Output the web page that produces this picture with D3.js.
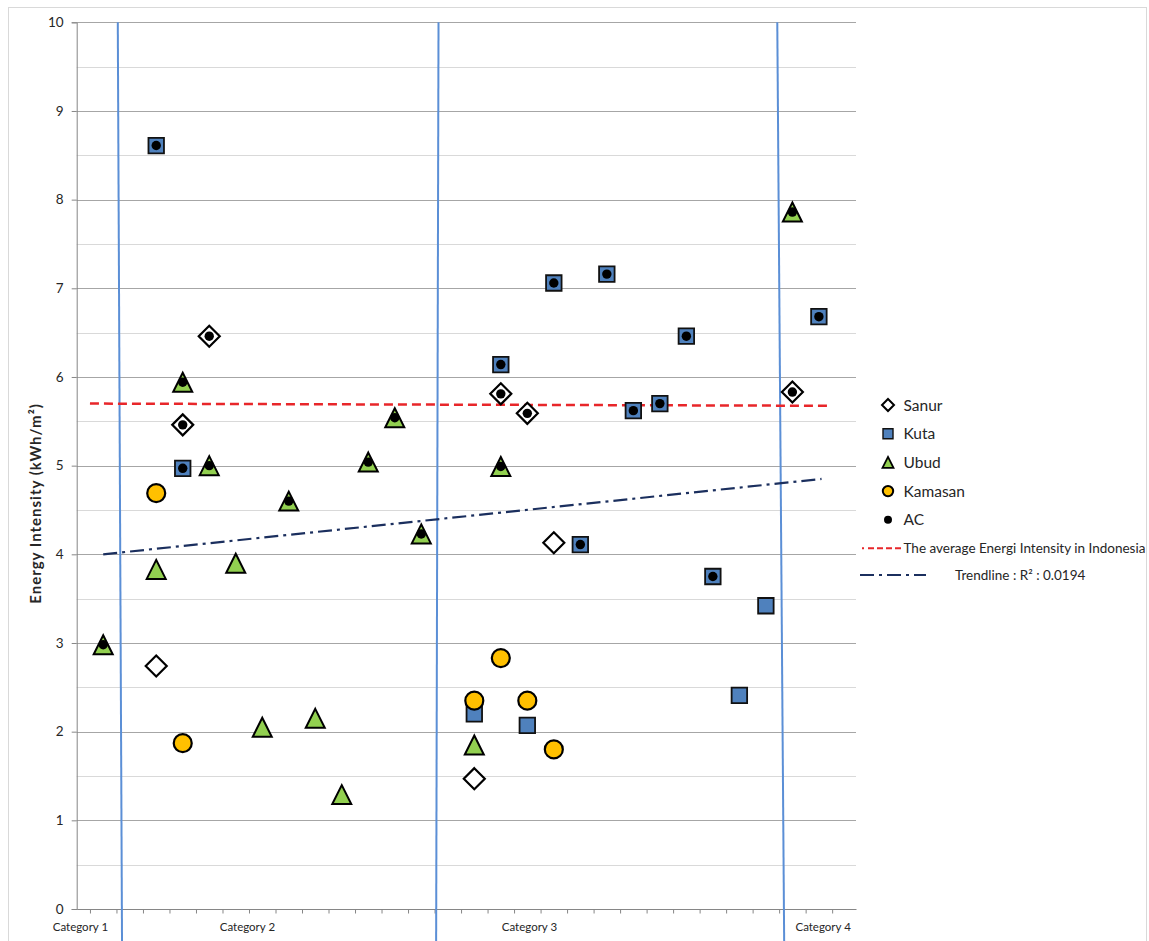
<!DOCTYPE html>
<html>
<head>
<meta charset="utf-8">
<script src="https://cdn.jsdelivr.net/npm/d3@7"></script>
<style>
  html, body { margin: 0; padding: 0; background: #fff; }
  svg { display: block; }
  text { font-family: Lato, "Open Sans", "DejaVu Sans", sans-serif; fill: #262626; }
</style>
</head>
<body>
<svg id="chart" width="1149" height="941"></svg>
<script>
// ---------------- data ----------------
const categoryNames = ["Category 1", "Category 2", "Category 3", "Category 4"];
const categoryPos = [0.14, 6.44, 17.08, 28.16];
const yTicks = [0, 1, 2, 3, 4, 5, 6, 7, 8, 9, 10];

const sanurX = [3, 4, 5, 15, 16, 17, 18, 27];
const sanurY = [2.74, 5.46, 6.46, 1.47, 5.81, 5.59, 4.13, 5.83];

const kutaX = [3, 4, 15, 16, 17, 18, 19, 20, 21, 22, 23, 24, 25, 26, 28];
const kutaY = [8.61, 4.97, 2.20, 6.14, 2.07, 7.06, 4.11, 7.16, 5.62, 5.70, 6.46, 3.75, 2.41, 3.42, 6.68];

const ubudX = [1, 3, 4, 5, 6, 7, 8, 9, 10, 11, 12, 13, 15, 16, 27];
const ubudY = [2.98, 3.83, 5.94, 5.00, 3.90, 2.05, 4.60, 2.15, 1.29, 5.04, 5.54, 4.23, 1.85, 4.99, 7.86];

const kamasanX = [3, 4, 15, 16, 17, 18];
const kamasanY = [4.69, 1.87, 2.35, 2.83, 2.35, 1.80];

const acX = [1, 3, 4, 4, 4, 5, 5, 8, 11, 12, 13, 16, 16, 16, 17, 18, 19, 20, 21, 22, 23, 24, 27, 27, 28];
const acY = [2.98, 8.61, 5.94, 5.46, 4.97, 6.46, 5.00, 4.60, 5.04, 5.54, 4.23, 6.14, 5.81, 4.99, 5.59, 7.06, 4.11, 7.16, 5.62, 5.70, 6.46, 3.75, 7.86, 5.83, 6.68];

// average energy intensity line and trendline (endpoints in data units)
const avgLineX = [0.5, 28.42];
const avgLineY = [5.70, 5.675];
const trendX = [1, 28.1];
const trendY = [4.00, 4.85];
const trendLabel = "Trendline : R\u00b2 : 0.0194";
const avgLabel = "The average Energi Intensity in Indonesia";

// category separator lines (top/bottom points in data units)
const sepTopX = [1.55, 13.65, 26.43];
const sepBotX = [1.71, 13.56, 26.69];
const sepTopY = 10;
const sepBotY = -0.37;

const seriesNames = ["Sanur", "Kuta", "Ubud", "Kamasan", "AC"];

// ---------------- layout ----------------
const svg = d3.select("#chart");
const plotLeft = 76.7, plotRight = 856, plotTop = 22.3, plotBottom = 909;

const x = d3.scaleLinear().domain([0, 29.4]).range([plotLeft, plotRight]);
const y = d3.scaleLinear().domain([0, 10]).range([plotBottom, plotTop]);

// outer chart frame
svg.append("rect").attr("x", 8.5).attr("y", 7.5).attr("width", 1138).attr("height", 960)
  .attr("fill", "none").attr("stroke", "#D9D9D9").attr("stroke-width", 1);

// minor gridlines
const minor = d3.range(0.5, 10, 1);
svg.append("g").selectAll("line").data(minor).join("line")
  .attr("x1", plotLeft).attr("x2", plotRight)
  .attr("y1", d => Math.round(y(d)) + 0.5).attr("y2", d => Math.round(y(d)) + 0.5)
  .attr("stroke", "#D9D9D9").attr("stroke-width", 1);
// major gridlines
svg.append("g").selectAll("line").data(yTicks.slice(1)).join("line")
  .attr("x1", plotLeft).attr("x2", plotRight)
  .attr("y1", d => Math.round(y(d)) + 0.5).attr("y2", d => Math.round(y(d)) + 0.5)
  .attr("stroke", "#A6A6A6").attr("stroke-width", 1);

// y axis
const yAxis = svg.append("g").attr("transform", `translate(${plotLeft},0)`)
  .call(d3.axisLeft(y).tickValues(yTicks).tickSize(5).tickPadding(8).tickFormat(d3.format("d")));
yAxis.select(".domain").attr("stroke", "#868686");
yAxis.selectAll(".tick line").attr("stroke", "#868686");
yAxis.selectAll("text").style("font-size", "13.5px").attr("fill", "#262626")
  .style("font-family", "Lato, 'Open Sans', sans-serif");

// x axis
const xAxis = svg.append("g").attr("transform", `translate(0,${plotBottom})`)
  .call(d3.axisBottom(x).tickValues(d3.range(0.5, 29, 1)).tickSize(4.5).tickSizeOuter(0).tickFormat(""));
xAxis.select(".domain").attr("stroke", "#868686");
xAxis.selectAll(".tick line").attr("stroke", "#868686");
svg.append("line").attr("x1", plotLeft - 4).attr("x2", plotLeft).attr("y1", plotBottom + 0.5).attr("y2", plotBottom + 0.5)
  .attr("stroke", "#868686");

// category labels
svg.append("g").selectAll("text").data(categoryNames).join("text")
  .attr("x", (d, i) => x(categoryPos[i])).attr("y", 930.5)
  .attr("text-anchor", "middle").style("font-size", "11.5px").text(d => d);

// y axis title
svg.append("text")
  .attr("transform", `translate(40.5,503.5) rotate(-90)`)
  .attr("text-anchor", "middle").style("font-size", "15px").style("font-weight", "bold")
  .style("letter-spacing", "1px")
  .text("Energy Intensity (kWh/m\u00b2)");

// separator lines
const sepG = svg.append("g");
sepTopX.forEach((tx, i) => {
  sepG.append("line")
    .attr("x1", x(tx)).attr("y1", y(sepTopY))
    .attr("x2", x(sepBotX[i])).attr("y2", y(sepBotY))
    .attr("stroke", "#5B8FD6").attr("stroke-width", 2);
});

// average line
svg.append("line")
  .attr("x1", x(avgLineX[0])).attr("y1", y(avgLineY[0]))
  .attr("x2", x(avgLineX[1])).attr("y2", y(avgLineY[1]))
  .attr("stroke", "#E8262A").attr("stroke-width", 2.5).attr("stroke-dasharray", "9,5");

// trendline
svg.append("line")
  .attr("x1", x(trendX[0])).attr("y1", y(trendY[0]))
  .attr("x2", x(trendX[1])).attr("y2", y(trendY[1]))
  .attr("stroke", "#1B2F5E").attr("stroke-width", 2.2).attr("stroke-dasharray", "14,5,3,5");

// marker paths
function diamondPath(s) { const h = s / 2; return `M0,${-h}L${h},0L0,${h}L${-h},0Z`; }
function squarePath(s) { const h = s / 2; return `M${-h},${-h}H${h}V${h}H${-h}Z`; }
function trianglePath(w, hgt) { return `M0,${-hgt / 2}L${w / 2},${hgt / 2}L${-w / 2},${hgt / 2}Z`; }

const pts = (xs, ys) => xs.map((v, i) => [v, ys[i]]);

// Sanur
svg.append("g").selectAll("path").data(pts(sanurX, sanurY)).join("path")
  .attr("transform", d => `translate(${x(d[0])},${y(d[1])})`)
  .attr("d", diamondPath(21)).attr("fill", "#fff").attr("stroke", "#000").attr("stroke-width", 2.2);
// Kuta
svg.append("g").selectAll("path").data(pts(kutaX, kutaY)).join("path")
  .attr("transform", d => `translate(${x(d[0])},${y(d[1])})`)
  .attr("d", squarePath(15.5)).attr("fill", "#4F81BD").attr("stroke", "#111").attr("stroke-width", 1.8);
// Ubud
svg.append("g").selectAll("path").data(pts(ubudX, ubudY)).join("path")
  .attr("transform", d => `translate(${x(d[0])},${y(d[1])})`)
  .attr("d", trianglePath(19, 19)).attr("fill", "#92D050").attr("stroke", "#000").attr("stroke-width", 2).attr("stroke-linejoin", "miter");
// Kamasan
svg.append("g").selectAll("circle").data(pts(kamasanX, kamasanY)).join("circle")
  .attr("cx", d => x(d[0])).attr("cy", d => y(d[1])).attr("r", 9)
  .attr("fill", "#FFC000").attr("stroke", "#000").attr("stroke-width", 2.2);
// AC
svg.append("g").selectAll("circle").data(pts(acX, acY)).join("circle")
  .attr("cx", d => x(d[0])).attr("cy", d => y(d[1])).attr("r", 4.7)
  .attr("fill", "#000");

// ---------------- legend ----------------
const lg = svg.append("g");
const legY = [405, 433.7, 462.4, 491.1, 519.8];
const mx = 888, tx0 = 903.5;
seriesNames.forEach((name, i) => {
  const g = lg.append("g").attr("transform", `translate(${mx},${legY[i]})`);
  if (i === 0) g.append("path").attr("d", diamondPath(12)).attr("fill", "#fff").attr("stroke", "#000").attr("stroke-width", 2);
  if (i === 1) g.append("path").attr("d", squarePath(10)).attr("fill", "#4F81BD").attr("stroke", "#111").attr("stroke-width", 1.4);
  if (i === 2) g.append("path").attr("d", trianglePath(11, 11)).attr("fill", "#92D050").attr("stroke", "#000").attr("stroke-width", 1.8);
  if (i === 3) g.append("circle").attr("r", 5.2).attr("fill", "#FFC000").attr("stroke", "#000").attr("stroke-width", 2);
  if (i === 4) g.append("circle").attr("r", 4).attr("fill", "#000");
  lg.append("text").attr("x", tx0).attr("y", legY[i] + 5.5).style("font-size", "15.5px").text(name);
});
// average line legend
lg.append("line").attr("x1", 862).attr("x2", 903).attr("y1", 548.3).attr("y2", 548.3)
  .attr("stroke", "#E8262A").attr("stroke-width", 2).attr("stroke-dasharray", "2,4,6,3,6,3,6,3,6");
lg.append("text").attr("x", 903.5).attr("y", 553).style("font-size", "13.5px").text(avgLabel);
// trendline legend
lg.append("line").attr("x1", 860).attr("x2", 926).attr("y1", 575).attr("y2", 575)
  .attr("stroke", "#1B2F5E").attr("stroke-width", 2).attr("stroke-dasharray", "14,5,3,5");
lg.append("text").attr("x", 955).attr("y", 579.5).style("font-size", "13.5px").text(trendLabel);
</script>
</body>
</html>
